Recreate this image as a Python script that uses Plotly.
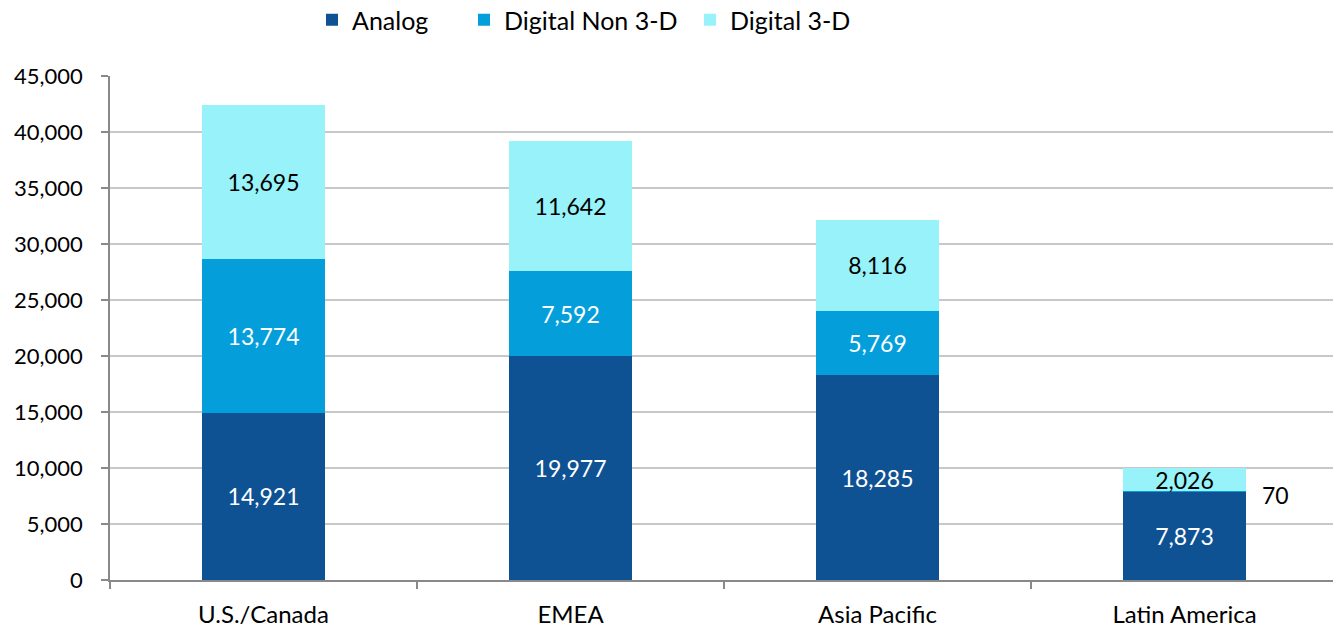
import plotly.graph_objects as go

regions = ["U.S./Canada", "EMEA", "Asia Pacific", "Latin America"]
analog = [14921, 19977, 18285, 7873]
digital_non3d = [13774, 7592, 5769, 70]
digital_3d = [13695, 11642, 8116, 2026]

series = [
    ("Analog", analog, "#0F5294", "white"),
    ("Digital Non 3-D", digital_non3d, "#049FDB", "white"),
    ("Digital 3-D", digital_3d, "#97F3F9", "black"),
]
legend_ids = ["legend", "legend2", "legend3"]

# page body has an 8px default margin; the figure is sized to fit the window
W, H = 1333, 619
legend_px = [304, 456, 682]

FONT = "Lato, Calibri, Carlito, sans-serif"
fig = go.Figure()
for (name, vals, color, tcolor), lid in zip(series, legend_ids):
    texts = [f"{v:,}" if v >= 1000 else "" for v in vals]
    fig.add_trace(go.Bar(
        name=name, x=regions, y=vals, marker_color=color,
        marker_line_width=0, legend=lid,
        text=texts, textposition="inside", insidetextanchor="middle",
        textangle=0, constraintext="none",
        textfont=dict(color=tcolor, size=23, family=FONT),
        hoverinfo="skip",
    ))

# small value label placed to the right of the bar
for i, v in enumerate(digital_non3d):
    if v < 1000:
        fig.add_annotation(
            x=regions[i], y=analog[i] + v, text=f"{v:,}", showarrow=False,
            xanchor="left", xshift=75, yshift=-4,
            font=dict(size=23, color="black", family=FONT),
        )

legend_common = dict(orientation="h", y=1 - 12 / H, yref="container", yanchor="middle",
                     xref="container", xanchor="left", font=dict(size=25, family=FONT),
                     bgcolor="rgba(0,0,0,0)")
fig.update_layout(
    barmode="stack", bargap=0.6,
    width=W, height=H,
    margin=dict(l=102, r=3, t=68, b=47, autoexpand=False),
    paper_bgcolor="white", plot_bgcolor="white",
    font=dict(family=FONT, size=23, color="black"),
    showlegend=True,
    legend=dict(x=legend_px[0] / W, **legend_common),
    legend2=dict(x=legend_px[1] / W, **legend_common),
    legend3=dict(x=legend_px[2] / W, **legend_common),
)
fig.update_yaxes(
    range=[0, 45000], dtick=5000, tickformat=",d",
    showgrid=True, gridcolor="#C8C8C8", gridwidth=1.5,
    showline=True, linecolor="#898989", linewidth=1.5,
    ticks="outside", ticklen=7, tickcolor="#898989", tickwidth=1.5,
    zeroline=False, ticklabelstandoff=14, automargin=False,
    tickfont=dict(size=22),
)
fig.update_xaxes(
    showline=True, linecolor="#898989", linewidth=1.5,
    ticks="outside", tickson="boundaries", ticklen=7, tickcolor="#898989", tickwidth=1.5,
    showgrid=False, ticklabelstandoff=12, automargin=False,
    tickfont=dict(size=24),
)
fig.write_html("out.html")
